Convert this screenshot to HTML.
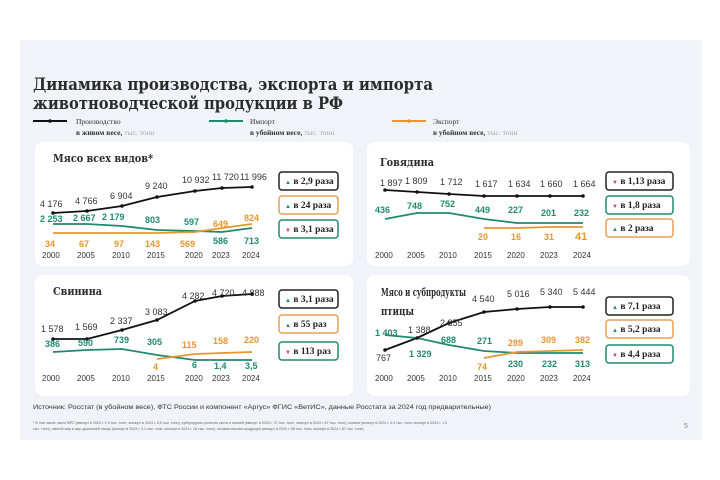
<!DOCTYPE html>
<html><head><meta charset="utf-8"><style>
body{margin:0;background:#fff;}
svg{display:block;font-family:"Liberation Sans","DejaVu Sans",sans-serif;}
.t{font-family:"DejaVu Serif","Liberation Serif",serif;font-weight:bold;fill:#2b2b2b}
.v{font-size:9px;fill:#333}
.g{font-size:9px;fill:#1f8a70;font-weight:bold}
.o{font-size:9px;fill:#e8962e;font-weight:bold}
.y{font-size:8px;fill:#333}
.b{font-size:9.5px;font-weight:bold;fill:#222;font-family:"Liberation Serif",serif}
</style></head><body>
<svg width="720" height="480" viewBox="0 0 720 480">
<rect x="20" y="40" width="682" height="400" fill="#f0f3f7"/>
<text class="t" x="33" y="90" font-size="17" textLength="400" lengthAdjust="spacingAndGlyphs">Динамика производства, экспорта и импорта</text>
<text class="t" x="33" y="109" font-size="17" textLength="310" lengthAdjust="spacingAndGlyphs">животноводческой продукции в РФ</text>
<g font-size="7.5" font-family="Liberation Serif,serif">
<line x1="33" y1="121" x2="67" y2="121" stroke="#111" stroke-width="2"/><circle cx="50" cy="121" r="1.8" fill="#111"/>
<text x="76" y="124" fill="#333">Производство</text><text x="76" y="135" fill="#333" font-weight="bold">в живом весе, <tspan fill="#aab" font-weight="normal">тыс. тонн</tspan></text>
<line x1="209" y1="121" x2="243" y2="121" stroke="#1f8a70" stroke-width="2"/><circle cx="226" cy="121" r="1.8" fill="#1f8a70"/>
<text x="250" y="124" fill="#333">Импорт</text><text x="250" y="135" fill="#333" font-weight="bold">в убойном весе, <tspan fill="#aab" font-weight="normal">тыс. тонн</tspan></text>
<line x1="392" y1="121" x2="426" y2="121" stroke="#e8962e" stroke-width="2"/><circle cx="409" cy="121" r="1.8" fill="#e8962e"/>
<text x="433" y="124" fill="#333">Экспорт</text><text x="433" y="135" fill="#333" font-weight="bold">в убойном весе, <tspan fill="#aab" font-weight="normal">тыс. тонн</tspan></text>
</g>
<rect x="35" y="142" width="318" height="124" rx="8" fill="#fff"/>
<rect x="367" y="142" width="323" height="124" rx="8" fill="#fff"/>
<rect x="35" y="275" width="318" height="121" rx="8" fill="#fff"/>
<rect x="367" y="275" width="323" height="121" rx="8" fill="#fff"/>
<g fill="none" stroke-width="1.8">
<polyline stroke="#111" points="53,213 87,211 122,206 157,197 195,191 222,188 252,187"/>
<polyline stroke="#1f8a70" points="53,224 87,224 122,226 157,230 195,231 222,232 252,228"/>
<polyline stroke="#e8962e" points="53,233 87,233 122,233 157,233 195,232 222,228 252,224"/>
<polyline stroke="#111" points="385,190 417,192 449,194 484,196 517,196 550,196 583,196"/>
<polyline stroke="#1f8a70" points="385,219 417,213 449,213 484,219 517,223 550,223 583,223"/>
<polyline stroke="#e8962e" points="484,228 517,228 550,227 583,227"/>
<polyline stroke="#111" points="53,339 87,339 122,330 157,320 195,301 222,296 252,294"/>
<polyline stroke="#1f8a70" points="53,352 87,350 122,349 157,355 195,360 222,360 252,360"/>
<polyline stroke="#e8962e" points="157,359 195,354 222,353 252,352"/>
<polyline stroke="#111" points="385,350 417,338 449,323 484,312 517,309 550,307 583,307"/>
<polyline stroke="#1f8a70" points="385,335 417,338 449,345 484,351 517,353 550,353 583,353"/>
<polyline stroke="#e8962e" points="484,358 517,352 550,351 583,350"/>
</g>
<g fill="#111"><circle cx="53" cy="213" r="1.8"/><circle cx="87" cy="211" r="1.8"/><circle cx="122" cy="206" r="1.8"/><circle cx="157" cy="197" r="1.8"/><circle cx="195" cy="191" r="1.8"/><circle cx="222" cy="188" r="1.8"/><circle cx="252" cy="187" r="1.8"/>
<circle cx="385" cy="190" r="1.8"/><circle cx="417" cy="192" r="1.8"/><circle cx="449" cy="194" r="1.8"/><circle cx="484" cy="196" r="1.8"/><circle cx="517" cy="196" r="1.8"/><circle cx="550" cy="196" r="1.8"/><circle cx="583" cy="196" r="1.8"/>
<circle cx="53" cy="339" r="1.8"/><circle cx="87" cy="339" r="1.8"/><circle cx="122" cy="330" r="1.8"/><circle cx="157" cy="320" r="1.8"/><circle cx="195" cy="301" r="1.8"/><circle cx="222" cy="296" r="1.8"/><circle cx="252" cy="294" r="1.8"/>
<circle cx="385" cy="350" r="1.8"/><circle cx="417" cy="338" r="1.8"/><circle cx="449" cy="323" r="1.8"/><circle cx="484" cy="312" r="1.8"/><circle cx="517" cy="309" r="1.8"/><circle cx="550" cy="307" r="1.8"/><circle cx="583" cy="307" r="1.8"/></g>
<g class="t" fill="#222">
<text x="53" y="162" font-size="11" textLength="100" lengthAdjust="spacingAndGlyphs">Мясо всех видов*</text>
<text x="380" y="166" font-size="11" textLength="54" lengthAdjust="spacingAndGlyphs">Говядина</text>
<text x="53" y="295" font-size="11" textLength="49" lengthAdjust="spacingAndGlyphs">Свинина</text>
<text x="381" y="296" font-size="11" textLength="85" lengthAdjust="spacingAndGlyphs">Мясо и субпродукты</text>
<text x="381" y="315" font-size="11" textLength="33" lengthAdjust="spacingAndGlyphs">птицы</text>
</g>
<g class="v">
<text x="40" y="207">4 176</text><text x="75" y="204">4 766</text><text x="110" y="199">6 904</text><text x="145" y="189">9 240</text><text x="182" y="183">10 932</text><text x="212" y="180">11 720</text><text x="240" y="180">11 996</text>
<text x="380" y="186">1 897</text><text x="405" y="184">1 809</text><text x="440" y="185">1 712</text><text x="475" y="187">1 617</text><text x="508" y="187">1 634</text><text x="540" y="187">1 660</text><text x="573" y="187">1 664</text>
<text x="41" y="332">1 578</text><text x="75" y="330">1 569</text><text x="110" y="324">2 337</text><text x="145" y="315">3 083</text><text x="182" y="299">4 282</text><text x="212" y="296">4 720</text><text x="242" y="296">4 888</text>
<text x="376" y="361">767</text><text x="408" y="333">1 388</text><text x="440" y="326">2 855</text><text x="472" y="302">4 540</text><text x="507" y="297">5 016</text><text x="540" y="295">5 340</text><text x="573" y="295">5 444</text>
</g>
<g class="g">
<text x="40" y="222">2 253</text><text x="73" y="221">2 667</text><text x="102" y="220">2 179</text><text x="145" y="223">803</text><text x="184" y="225">597</text><text x="213" y="244">586</text><text x="244" y="244">713</text>
<text x="375" y="213">436</text><text x="407" y="209">748</text><text x="440" y="207">752</text><text x="475" y="213">449</text><text x="508" y="213">227</text><text x="541" y="216">201</text><text x="574" y="216">232</text>
<text x="45" y="347">386</text><text x="78" y="346">590</text><text x="114" y="343">739</text><text x="147" y="345">305</text><text x="192" y="368">6</text><text x="214" y="369">1,4</text><text x="245" y="369">3,5</text>
<text x="375" y="336">1 403</text><text x="409" y="357">1 329</text><text x="441" y="343">688</text><text x="477" y="344">271</text><text x="508" y="367">230</text><text x="542" y="367">232</text><text x="575" y="367">313</text>
</g>
<g class="o">
<text x="45" y="247">34</text><text x="79" y="247">67</text><text x="114" y="247">97</text><text x="145" y="247">143</text><text x="180" y="247">569</text><text x="213" y="227">649</text><text x="244" y="221">824</text>
<text x="478" y="240">20</text><text x="511" y="240">16</text><text x="544" y="240">31</text><text x="575" y="240" font-size="11">41</text>
<text x="153" y="370">4</text><text x="182" y="348">115</text><text x="213" y="344">158</text><text x="244" y="343">220</text>
<text x="477" y="370">74</text><text x="508" y="346">289</text><text x="541" y="343">309</text><text x="575" y="343">382</text>
</g>
<g class="y">
<text x="42" y="258">2000</text><text x="77" y="258">2005</text><text x="112" y="258">2010</text><text x="147" y="258">2015</text><text x="185" y="258">2020</text><text x="212" y="258">2023</text><text x="242" y="258">2024</text>
<text x="375" y="258">2000</text><text x="407" y="258">2005</text><text x="439" y="258">2010</text><text x="474" y="258">2015</text><text x="507" y="258">2020</text><text x="540" y="258">2023</text><text x="573" y="258">2024</text>
<text x="42" y="381">2000</text><text x="77" y="381">2005</text><text x="112" y="381">2010</text><text x="147" y="381">2015</text><text x="185" y="381">2020</text><text x="212" y="381">2023</text><text x="242" y="381">2024</text>
<text x="375" y="381">2000</text><text x="407" y="381">2005</text><text x="439" y="381">2010</text><text x="474" y="381">2015</text><text x="507" y="381">2020</text><text x="540" y="381">2023</text><text x="573" y="381">2024</text>
</g>
<g fill="#fff" stroke-width="1.5">
<rect x="279" y="172" width="59" height="18" rx="3" stroke="#222"/><rect x="279" y="196" width="59" height="18" rx="3" stroke="#e8a050"/><rect x="279" y="220" width="59" height="18" rx="3" stroke="#1f8a70"/>
<rect x="606" y="172" width="67" height="18" rx="3" stroke="#222"/><rect x="606" y="196" width="67" height="18" rx="3" stroke="#1f8a70"/><rect x="606" y="219" width="67" height="18" rx="3" stroke="#e8a050"/>
<rect x="279" y="290" width="59" height="18" rx="3" stroke="#222"/><rect x="279" y="315" width="59" height="18" rx="3" stroke="#e8a050"/><rect x="279" y="342" width="59" height="18" rx="3" stroke="#1f8a70"/>
<rect x="606" y="297" width="67" height="18" rx="3" stroke="#222"/><rect x="606" y="320" width="67" height="18" rx="3" stroke="#e8a050"/><rect x="606" y="345" width="67" height="18" rx="3" stroke="#1f8a70"/>
</g>
<g class="b">
<text x="285" y="184"><tspan fill="#1f8a70" font-size="6">▲</tspan> в 2,9 раза</text><text x="285" y="208"><tspan fill="#1f8a70" font-size="6">▲</tspan> в 24 раза</text><text x="285" y="232"><tspan fill="#d04060" font-size="6">▼</tspan> в 3,1 раза</text>
<text x="612" y="184"><tspan fill="#d04060" font-size="6">▼</tspan> в 1,13 раза</text><text x="612" y="208"><tspan fill="#d04060" font-size="6">▼</tspan> в 1,8 раза</text><text x="612" y="231"><tspan fill="#1f8a70" font-size="6">▲</tspan> в 2 раза</text>
<text x="285" y="302"><tspan fill="#1f8a70" font-size="6">▲</tspan> в 3,1 раза</text><text x="285" y="327"><tspan fill="#1f8a70" font-size="6">▲</tspan> в 55 раз</text><text x="285" y="354"><tspan fill="#d04060" font-size="6">▼</tspan> в 113 раз</text>
<text x="612" y="309"><tspan fill="#1f8a70" font-size="6">▲</tspan> в 7,1 раза</text><text x="612" y="332"><tspan fill="#1f8a70" font-size="6">▲</tspan> в 5,2 раза</text><text x="612" y="357"><tspan fill="#d04060" font-size="6">▼</tspan> в 4,4 раза</text>
</g>
<text x="33" y="409" font-size="6.5" fill="#333" textLength="458" lengthAdjust="spacingAndGlyphs">Источник: Росстат (в убойном весе), ФТС России и компонент «Аргус» ФГИС «ВетИС», данные Росстата за 2024 год предварительные)</text>
<text x="33" y="424" font-size="3.6" fill="#666">* В том числе: мясо МРС (импорт в 2024 г. 1,9 тыс. тонн, экспорт в 2024 г. 8,5 тыс. тонн), субпродукты рогатого скота и свиней (импорт в 2024 г. 72 тыс. тонн, экспорт в 2024 г. 67 тыс. тонн), конина (импорт в 2024 г. 4,4 тыс. тонн, экспорт в 2024 г. 1,9</text>
<text x="33" y="430" font-size="3.6" fill="#666">тыс. тонн), свиной жир и жир домашней птицы (импорт в 2024 г. 0,1 тыс. тонн, экспорт в 2024 г. 16 тыс. тонн), готовая мясная продукция (импорт в 2024 г. 85 тыс. тонн, экспорт в 2024 г. 87 тыс. тонн)</text>
<text x="684" y="428" font-size="7" fill="#888">5</text>
</svg>
</body></html>
